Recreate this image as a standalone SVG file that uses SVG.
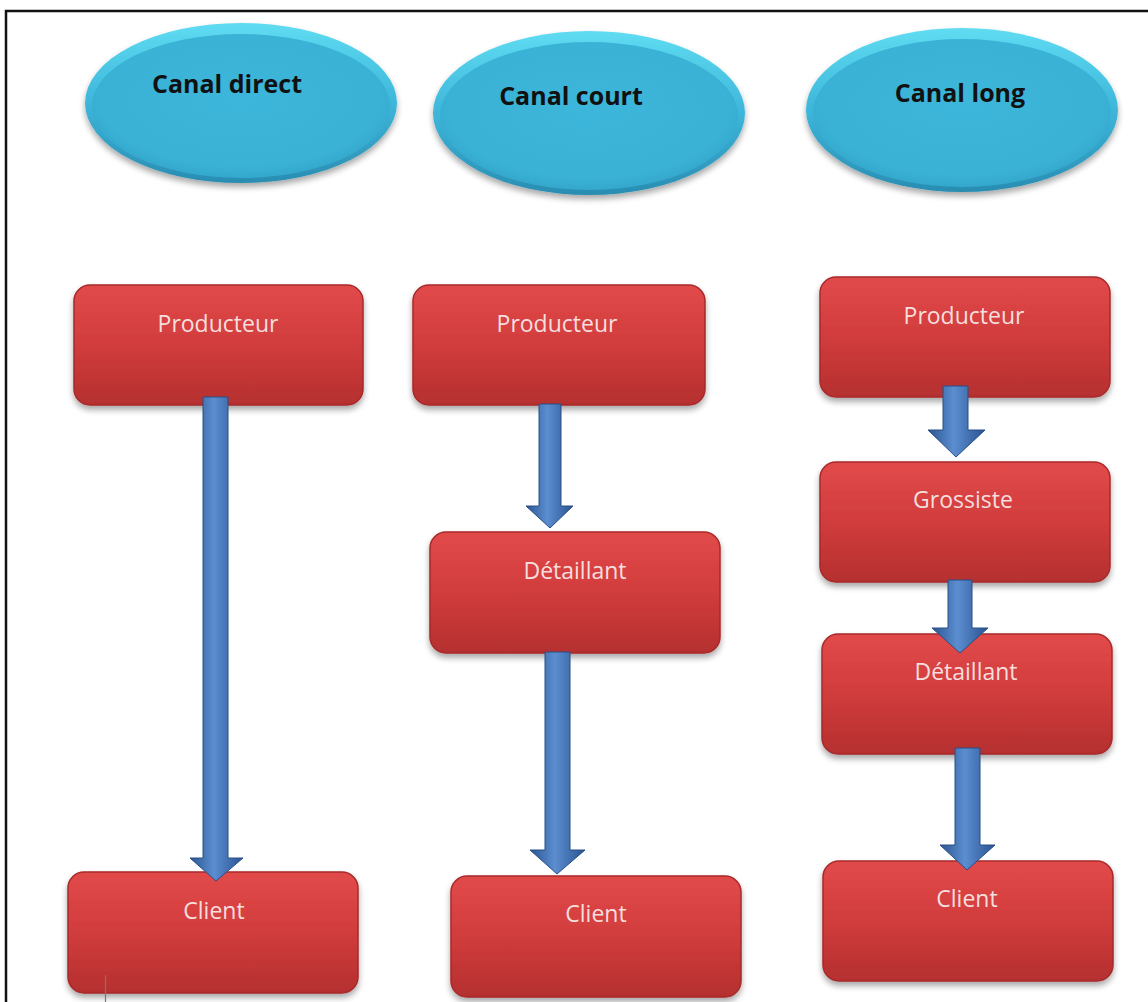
<svg xmlns="http://www.w3.org/2000/svg" width="1148" height="1002" viewBox="0 0 1148 1002">
<defs>
<linearGradient id="gRed" x1="0" y1="0" x2="0" y2="1">
<stop offset="0" stop-color="#e24a4a"/>
<stop offset="0.5" stop-color="#d13c3c"/>
<stop offset="1" stop-color="#b52f2f"/>
</linearGradient>
<linearGradient id="gBlue" x1="0" y1="0" x2="1" y2="0">
<stop offset="0" stop-color="#2c5590"/>
<stop offset="0.45" stop-color="#5b8ed0"/>
<stop offset="1" stop-color="#2a5290"/>
</linearGradient>
<radialGradient id="gCyan" cx="0.5" cy="0.45" r="0.55">
<stop offset="0" stop-color="#3cb6da"/>
<stop offset="0.85" stop-color="#3ab2d6"/>
<stop offset="1" stop-color="#34a8cc"/>
</radialGradient>
<linearGradient id="gRim" x1="0" y1="0" x2="0" y2="1">
<stop offset="0" stop-color="#5fdcf2"/>
<stop offset="0.5" stop-color="#3db6da"/>
<stop offset="1" stop-color="#2a8db2"/>
</linearGradient>
<filter id="sh" x="-10%" y="-10%" width="120%" height="130%">
<feGaussianBlur in="SourceAlpha" stdDeviation="3"/>
<feOffset dy="4"/>
<feComponentTransfer><feFuncA type="linear" slope="0.35"/></feComponentTransfer>
<feMerge><feMergeNode/><feMergeNode in="SourceGraphic"/></feMerge>
</filter>
</defs>
<style>
.box{fill:url(#gRed);stroke:#a82a2a;stroke-width:1.5;filter:url(#sh)}
.lbl{font-family:"Open Sans","Liberation Sans",sans-serif;font-size:23px;fill:#f6dede;text-anchor:middle}
.ttl{font-family:"Open Sans","Liberation Sans",sans-serif;font-size:25px;font-weight:bold;fill:#111;text-anchor:middle}
.rim{fill:url(#gRim);filter:url(#sh)}
.core{fill:url(#gCyan)}
.arr{fill:url(#gBlue);stroke:#284f86;stroke-width:1}
</style>
<rect x="0" y="0" width="1148" height="1002" fill="#ffffff"/>
<path d="M6 1002 V11 H1148" fill="none" stroke="#111" stroke-width="2.5"/>

<g id="title-direct">
<ellipse class="rim" cx="241" cy="103" rx="156" ry="80"/>
<ellipse class="core" cx="241" cy="106" rx="149" ry="72"/>
<text class="ttl" x="227" y="93">Canal direct</text>
</g>
<g id="title-court">
<ellipse class="rim" cx="589" cy="113" rx="156" ry="82"/>
<ellipse class="core" cx="589" cy="116" rx="149" ry="74"/>
<text class="ttl" x="571" y="105">Canal court</text>
</g>
<g id="title-long">
<ellipse class="rim" cx="962" cy="110" rx="156" ry="82"/>
<ellipse class="core" cx="962" cy="113" rx="149" ry="74"/>
<text class="ttl" x="960" y="102">Canal long</text>
</g>

<g id="direct-producteur"><rect class="box" x="74" y="285" width="289" height="120" rx="16"/><text class="lbl" x="218" y="332">Producteur</text></g>
<g id="direct-client"><rect class="box" x="68" y="872" width="290" height="121" rx="16"/><text class="lbl" x="214" y="919">Client</text></g>

<g id="court-producteur"><rect class="box" x="413" y="285" width="292" height="120" rx="16"/><text class="lbl" x="557" y="332">Producteur</text></g>
<g id="court-detaillant"><rect class="box" x="430" y="532" width="290" height="121" rx="16"/><text class="lbl" x="575" y="579">Détaillant</text></g>
<g id="court-client"><rect class="box" x="451" y="876" width="290" height="121" rx="16"/><text class="lbl" x="596" y="922">Client</text></g>

<g id="long-producteur"><rect class="box" x="820" y="277" width="290" height="120" rx="16"/><text class="lbl" x="964" y="324">Producteur</text></g>
<g id="long-grossiste"><rect class="box" x="820" y="462" width="290" height="120" rx="16"/><text class="lbl" x="963" y="508">Grossiste</text></g>
<g id="long-detaillant"><rect class="box" x="822" y="634" width="290" height="120" rx="16"/><text class="lbl" x="966" y="680">Détaillant</text></g>
<g id="long-client"><rect class="box" x="823" y="861" width="290" height="120" rx="16"/><text class="lbl" x="967" y="907">Client</text></g>

<g id="connectors">
<path class="arr" d="M203 397 H228 V858 H243 L216 881 L190 858 H203 Z"/>
<path class="arr" d="M539 404 H561 V506 H573 L550 528 L526 506 H539 Z"/>
<path class="arr" d="M545 652 H570 V850 H585 L557 874 L530 850 H545 Z"/>
<path class="arr" d="M943 386 H968 V430 H985 L956 457 L928 430 H943 Z"/>
<path class="arr" d="M948 580 H972 V628 H988 L960 653 L932 628 H948 Z"/>
<path class="arr" d="M955 748 H980 V845 H995 L967 870 L940 845 H955 Z"/>
</g>

<line x1="105.5" y1="975" x2="105.5" y2="1002" stroke="#777" stroke-width="1.2"/>
</svg>
